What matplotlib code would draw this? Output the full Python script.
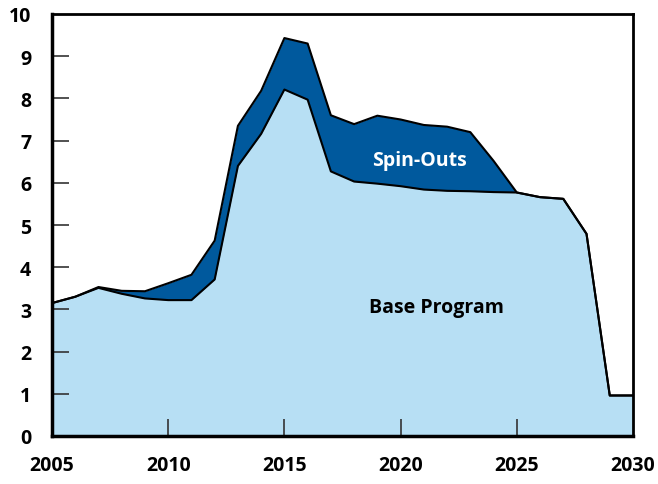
import numpy as np
import matplotlib
matplotlib.use("Agg")
import matplotlib.pyplot as plt

# values
years = list(range(2005, 2031))
base = [3.15, 3.30, 3.51, 3.37, 3.26, 3.22, 3.22, 3.71, 6.40, 7.16, 8.21, 7.97, 6.27,
        6.03, 5.98, 5.92, 5.84, 5.81, 5.80, 5.78, 5.77, 5.66, 5.62, 4.79, 0.96, 0.96]
total = [3.15, 3.30, 3.53, 3.44, 3.43, 3.62, 3.82, 4.63, 7.35, 8.18, 9.43, 9.30, 7.60,
         7.39, 7.59, 7.50, 7.37, 7.33, 7.20, 6.52, 5.77, 5.66, 5.62, 4.79, 0.96, 0.96]
xticks = [2005, 2010, 2015, 2020, 2025, 2030]
yticks = list(range(0, 11))

light = "#b7dff4"
dark = "#00599d"

plt.rcParams['font.family'] = ['Open Sans', 'DejaVu Sans']

fig = plt.figure(figsize=(6.58, 4.85), dpi=100)
ax = fig.add_axes([52 / 658, 48 / 485, 581 / 658, 422 / 485])

ax.fill_between(years, 0, base, color=light, lw=0, zorder=1)
ax.fill_between(years, base, total, color=dark, lw=0, zorder=1)
ax.plot(years, base, color="black", lw=1.5, zorder=2)
ax.plot(years, total, color="black", lw=1.5, zorder=2)

ax.set_xlim(2005, 2030)
ax.set_ylim(0, 10)

ax.set_xticks(xticks)
ax.set_yticks(yticks)
ax.tick_params(axis="both", direction="in", length=12, width=1.2, color="#333333",
               labelsize=14)
ax.tick_params(axis="x", pad=14)
ax.tick_params(axis="y", pad=15)
for lab in ax.get_xticklabels() + ax.get_yticklabels():
    lab.set_fontweight("bold")

# no tick marks at the ends of the axes
for t in ax.xaxis.get_major_ticks():
    if t.get_loc() in (2005, 2030):
        t.tick1line.set_visible(False)
for t in ax.yaxis.get_major_ticks():
    if t.get_loc() in (0, 10):
        t.tick1line.set_visible(False)

for side in ["left", "bottom"]:
    ax.spines[side].set_linewidth(2.5)
for side in ["top", "right"]:
    ax.spines[side].set_linewidth(2)

ax.text(2020.8, 6.55, "Spin-Outs", color="white", fontsize=14, fontweight="bold",
        ha="center", va="center", zorder=3)
ax.text(2021.55, 3.06, "Base Program", color="black", fontsize=14, fontweight="bold",
        ha="center", va="center", zorder=3)

fig.savefig("out.png", dpi=100)
